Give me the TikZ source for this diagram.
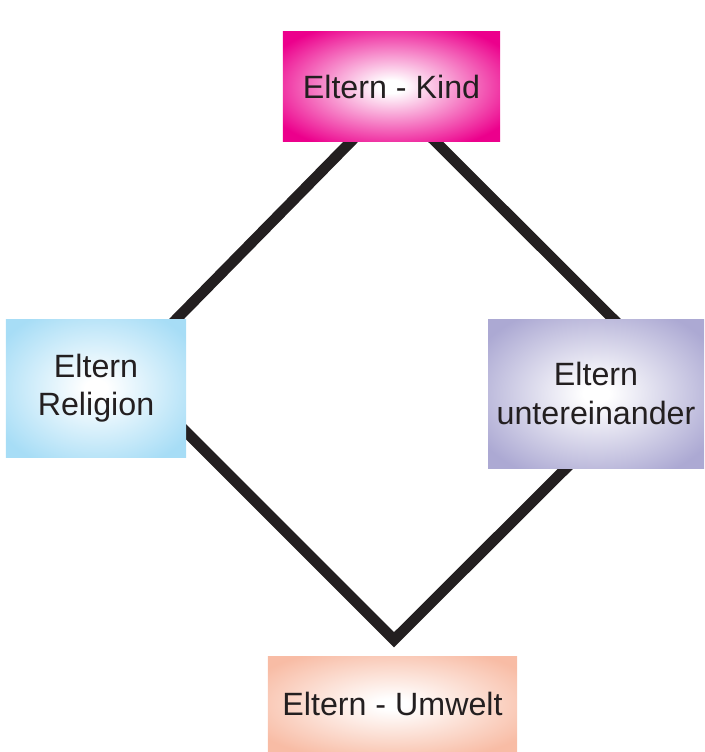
\documentclass[tikz,border=0pt]{standalone}
\usepackage{fontspec}
\setmainfont{Liberation Sans}
\usepackage{tikz}
\usetikzlibrary{positioning}
\usetikzlibrary{backgrounds}
\usepackage{xcolor}

\definecolor{ink}{HTML}{231F20}
\definecolor{kindpink}{HTML}{EC008C}
\definecolor{religionblau}{HTML}{A7DDF6}
\definecolor{paarlila}{HTML}{ACA9D3}
\definecolor{umweltrosa}{HTML}{F8BCA5}

% white centre fading out to the box colour at the edges
\newcommand{\glow}[2]{\pgfdeclareradialshading{#1}{\pgfpointorigin}{color(0bp)=(white); color(3bp)=(white); color(31bp)=(#2); color(50bp)=(#2)}}
\glow{glowkind}{kindpink}
\glow{glowreligion}{religionblau}
\glow{glowpaar}{paarlila}
\glow{glowumwelt}{umweltrosa}

\begin{document}
\begin{tikzpicture}[x=0.03cm, y=-0.03cm,
    feld/.style={inner sep=0pt, align=center, text=ink, font=\fontsize{27.5}{33}\selectfont},
    strich/.style={draw=ink, line width=0.32cm}]
    \useasboundingbox (0,0) rectangle (705,752);

    \node[feld, shading=glowkind, minimum width=6.51cm, minimum height=3.27cm] (kind) at (391.5,86.5) {Eltern - Kind};
    \node[feld, shading=glowreligion, minimum width=5.4cm, minimum height=4.14cm] (religion) at (96,388) {Eltern\\Religion};
    \node[feld, shading=glowpaar, minimum width=6.48cm, minimum height=4.47cm] (paar) at (596,393.5) {Eltern\\untereinander};
    \node[feld, shading=glowumwelt, minimum width=7.47cm, minimum height=2.88cm] (umwelt) at (392.5,704) {Eltern - Umwelt};
    \coordinate (spitze) at ([shift={(1.5,-16)}]umwelt.north);

    \begin{scope}[on background layer]
        \draw[strich] ([shift={(-26.5,-14)}]kind.south) -- ([shift={(67,14)}]religion.north);
        \draw[strich] ([shift={(29.5,-14)}]kind.south) -- ([shift={(30,13)}]paar.north);
        \draw[strich] ([shift={(-13,31)}]religion.east) -- (spitze) -- ([shift={(-17,-13)}]paar.south);
    \end{scope}
\end{tikzpicture}
\end{document}
